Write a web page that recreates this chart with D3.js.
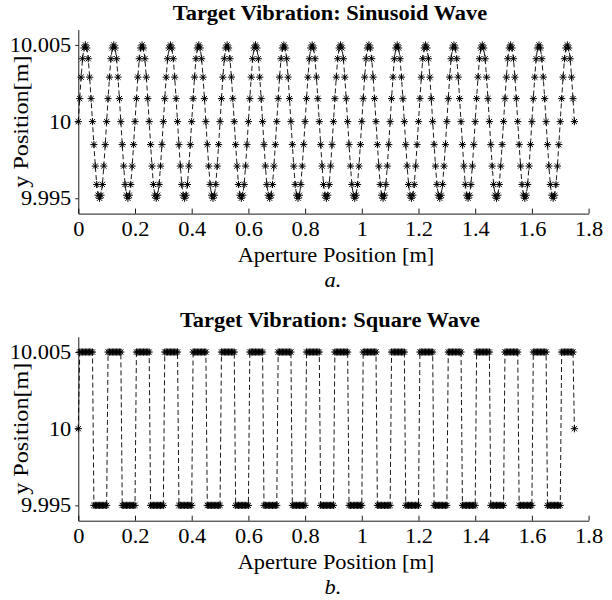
<!DOCTYPE html>
<html>
<head>
<meta charset="utf-8">
<script src="https://cdn.jsdelivr.net/npm/d3@7"></script>
<style>
  body { margin: 0; background: #fff; }
</style>
</head>
<body>
<svg id="chart" width="612" height="600"></svg>
<script>
// Aperture positions [m] of the samples (one row per 0.1 m vibration period)
const aperturePosition = [
  0,0.005,0.01,0.015,0.02,0.025,0.03,0.035,0.04,0.045,0.05,0.055,0.06,0.065,0.07,0.075,0.08,0.085,0.09,0.095,
  0.1,0.105,0.11,0.115,0.12,0.125,0.13,0.135,0.14,0.145,0.15,0.155,0.16,0.165,0.17,0.175,0.18,0.185,0.19,0.195,
  0.2,0.205,0.21,0.215,0.22,0.225,0.23,0.235,0.24,0.245,0.25,0.255,0.26,0.265,0.27,0.275,0.28,0.285,0.29,0.295,
  0.3,0.305,0.31,0.315,0.32,0.325,0.33,0.335,0.34,0.345,0.35,0.355,0.36,0.365,0.37,0.375,0.38,0.385,0.39,0.395,
  0.4,0.405,0.41,0.415,0.42,0.425,0.43,0.435,0.44,0.445,0.45,0.455,0.46,0.465,0.47,0.475,0.48,0.485,0.49,0.495,
  0.5,0.505,0.51,0.515,0.52,0.525,0.53,0.535,0.54,0.545,0.55,0.555,0.56,0.565,0.57,0.575,0.58,0.585,0.59,0.595,
  0.6,0.605,0.61,0.615,0.62,0.625,0.63,0.635,0.64,0.645,0.65,0.655,0.66,0.665,0.67,0.675,0.68,0.685,0.69,0.695,
  0.7,0.705,0.71,0.715,0.72,0.725,0.73,0.735,0.74,0.745,0.75,0.755,0.76,0.765,0.77,0.775,0.78,0.785,0.79,0.795,
  0.8,0.805,0.81,0.815,0.82,0.825,0.83,0.835,0.84,0.845,0.85,0.855,0.86,0.865,0.87,0.875,0.88,0.885,0.89,0.895,
  0.9,0.905,0.91,0.915,0.92,0.925,0.93,0.935,0.94,0.945,0.95,0.955,0.96,0.965,0.97,0.975,0.98,0.985,0.99,0.995,
  1,1.005,1.01,1.015,1.02,1.025,1.03,1.035,1.04,1.045,1.05,1.055,1.06,1.065,1.07,1.075,1.08,1.085,1.09,1.095,
  1.1,1.105,1.11,1.115,1.12,1.125,1.13,1.135,1.14,1.145,1.15,1.155,1.16,1.165,1.17,1.175,1.18,1.185,1.19,1.195,
  1.2,1.205,1.21,1.215,1.22,1.225,1.23,1.235,1.24,1.245,1.25,1.255,1.26,1.265,1.27,1.275,1.28,1.285,1.29,1.295,
  1.3,1.305,1.31,1.315,1.32,1.325,1.33,1.335,1.34,1.345,1.35,1.355,1.36,1.365,1.37,1.375,1.38,1.385,1.39,1.395,
  1.4,1.405,1.41,1.415,1.42,1.425,1.43,1.435,1.44,1.445,1.45,1.455,1.46,1.465,1.47,1.475,1.48,1.485,1.49,1.495,
  1.5,1.505,1.51,1.515,1.52,1.525,1.53,1.535,1.54,1.545,1.55,1.555,1.56,1.565,1.57,1.575,1.58,1.585,1.59,1.595,
  1.6,1.605,1.61,1.615,1.62,1.625,1.63,1.635,1.64,1.645,1.65,1.655,1.66,1.665,1.67,1.675,1.68,1.685,1.69,1.695,
  1.7,1.705,1.71,1.715,1.72,1.725,1.73,1.735,1.74,1.745,1.75
];

// Target y position [m] for the sinusoidal vibration
const sinusoidY = [
  10,10.0015,10.0029,10.0041,10.0048,10.005,10.0048,10.0041,10.0029,10.0015,10,9.9985,9.9971,9.9959,9.9952,9.995,9.9952,9.9959,9.9971,9.9985,
  10,10.0015,10.0029,10.0041,10.0048,10.005,10.0048,10.0041,10.0029,10.0015,10,9.9985,9.9971,9.9959,9.9952,9.995,9.9952,9.9959,9.9971,9.9985,
  10,10.0015,10.0029,10.0041,10.0048,10.005,10.0048,10.0041,10.0029,10.0015,10,9.9985,9.9971,9.9959,9.9952,9.995,9.9952,9.9959,9.9971,9.9985,
  10,10.0015,10.0029,10.0041,10.0048,10.005,10.0048,10.0041,10.0029,10.0015,10,9.9985,9.9971,9.9959,9.9952,9.995,9.9952,9.9959,9.9971,9.9985,
  10,10.0015,10.0029,10.0041,10.0048,10.005,10.0048,10.0041,10.0029,10.0015,10,9.9985,9.9971,9.9959,9.9952,9.995,9.9952,9.9959,9.9971,9.9985,
  10,10.0015,10.0029,10.0041,10.0048,10.005,10.0048,10.0041,10.0029,10.0015,10,9.9985,9.9971,9.9959,9.9952,9.995,9.9952,9.9959,9.9971,9.9985,
  10,10.0015,10.0029,10.0041,10.0048,10.005,10.0048,10.0041,10.0029,10.0015,10,9.9985,9.9971,9.9959,9.9952,9.995,9.9952,9.9959,9.9971,9.9985,
  10,10.0015,10.0029,10.0041,10.0048,10.005,10.0048,10.0041,10.0029,10.0015,10,9.9985,9.9971,9.9959,9.9952,9.995,9.9952,9.9959,9.9971,9.9985,
  10,10.0015,10.0029,10.0041,10.0048,10.005,10.0048,10.0041,10.0029,10.0015,10,9.9985,9.9971,9.9959,9.9952,9.995,9.9952,9.9959,9.9971,9.9985,
  10,10.0015,10.0029,10.0041,10.0048,10.005,10.0048,10.0041,10.0029,10.0015,10,9.9985,9.9971,9.9959,9.9952,9.995,9.9952,9.9959,9.9971,9.9985,
  10,10.0015,10.0029,10.0041,10.0048,10.005,10.0048,10.0041,10.0029,10.0015,10,9.9985,9.9971,9.9959,9.9952,9.995,9.9952,9.9959,9.9971,9.9985,
  10,10.0015,10.0029,10.0041,10.0048,10.005,10.0048,10.0041,10.0029,10.0015,10,9.9985,9.9971,9.9959,9.9952,9.995,9.9952,9.9959,9.9971,9.9985,
  10,10.0015,10.0029,10.0041,10.0048,10.005,10.0048,10.0041,10.0029,10.0015,10,9.9985,9.9971,9.9959,9.9952,9.995,9.9952,9.9959,9.9971,9.9985,
  10,10.0015,10.0029,10.0041,10.0048,10.005,10.0048,10.0041,10.0029,10.0015,10,9.9985,9.9971,9.9959,9.9952,9.995,9.9952,9.9959,9.9971,9.9985,
  10,10.0015,10.0029,10.0041,10.0048,10.005,10.0048,10.0041,10.0029,10.0015,10,9.9985,9.9971,9.9959,9.9952,9.995,9.9952,9.9959,9.9971,9.9985,
  10,10.0015,10.0029,10.0041,10.0048,10.005,10.0048,10.0041,10.0029,10.0015,10,9.9985,9.9971,9.9959,9.9952,9.995,9.9952,9.9959,9.9971,9.9985,
  10,10.0015,10.0029,10.0041,10.0048,10.005,10.0048,10.0041,10.0029,10.0015,10,9.9985,9.9971,9.9959,9.9952,9.995,9.9952,9.9959,9.9971,9.9985,
  10,10.0015,10.0029,10.0041,10.0048,10.005,10.0048,10.0041,10.0029,10.0015,10
];

// Target y position [m] for the square-wave vibration
const squareY = [
  10,10.005,10.005,10.005,10.005,10.005,10.005,10.005,10.005,10.005,10.005,9.995,9.995,9.995,9.995,9.995,9.995,9.995,9.995,9.995,
  9.995,10.005,10.005,10.005,10.005,10.005,10.005,10.005,10.005,10.005,10.005,9.995,9.995,9.995,9.995,9.995,9.995,9.995,9.995,9.995,
  9.995,10.005,10.005,10.005,10.005,10.005,10.005,10.005,10.005,10.005,10.005,9.995,9.995,9.995,9.995,9.995,9.995,9.995,9.995,9.995,
  9.995,10.005,10.005,10.005,10.005,10.005,10.005,10.005,10.005,10.005,10.005,9.995,9.995,9.995,9.995,9.995,9.995,9.995,9.995,9.995,
  9.995,10.005,10.005,10.005,10.005,10.005,10.005,10.005,10.005,10.005,10.005,9.995,9.995,9.995,9.995,9.995,9.995,9.995,9.995,9.995,
  9.995,10.005,10.005,10.005,10.005,10.005,10.005,10.005,10.005,10.005,10.005,9.995,9.995,9.995,9.995,9.995,9.995,9.995,9.995,9.995,
  9.995,10.005,10.005,10.005,10.005,10.005,10.005,10.005,10.005,10.005,10.005,9.995,9.995,9.995,9.995,9.995,9.995,9.995,9.995,9.995,
  9.995,10.005,10.005,10.005,10.005,10.005,10.005,10.005,10.005,10.005,10.005,9.995,9.995,9.995,9.995,9.995,9.995,9.995,9.995,9.995,
  9.995,10.005,10.005,10.005,10.005,10.005,10.005,10.005,10.005,10.005,10.005,9.995,9.995,9.995,9.995,9.995,9.995,9.995,9.995,9.995,
  9.995,10.005,10.005,10.005,10.005,10.005,10.005,10.005,10.005,10.005,10.005,9.995,9.995,9.995,9.995,9.995,9.995,9.995,9.995,9.995,
  9.995,10.005,10.005,10.005,10.005,10.005,10.005,10.005,10.005,10.005,10.005,9.995,9.995,9.995,9.995,9.995,9.995,9.995,9.995,9.995,
  9.995,10.005,10.005,10.005,10.005,10.005,10.005,10.005,10.005,10.005,10.005,9.995,9.995,9.995,9.995,9.995,9.995,9.995,9.995,9.995,
  9.995,10.005,10.005,10.005,10.005,10.005,10.005,10.005,10.005,10.005,10.005,9.995,9.995,9.995,9.995,9.995,9.995,9.995,9.995,9.995,
  9.995,10.005,10.005,10.005,10.005,10.005,10.005,10.005,10.005,10.005,10.005,9.995,9.995,9.995,9.995,9.995,9.995,9.995,9.995,9.995,
  9.995,10.005,10.005,10.005,10.005,10.005,10.005,10.005,10.005,10.005,10.005,9.995,9.995,9.995,9.995,9.995,9.995,9.995,9.995,9.995,
  9.995,10.005,10.005,10.005,10.005,10.005,10.005,10.005,10.005,10.005,10.005,9.995,9.995,9.995,9.995,9.995,9.995,9.995,9.995,9.995,
  9.995,10.005,10.005,10.005,10.005,10.005,10.005,10.005,10.005,10.005,10.005,9.995,9.995,9.995,9.995,9.995,9.995,9.995,9.995,9.995,
  9.995,10.005,10.005,10.005,10.005,10.005,10.005,10.005,10.005,10.005,10
];

const xTickValues = [0, 0.2, 0.4, 0.6, 0.8, 1, 1.2, 1.4, 1.6, 1.8];
const xTickLabels = ["0", "0.2", "0.4", "0.6", "0.8", "1", "1.2", "1.4", "1.6", "1.8"];
const yTickValues = [9.995, 10, 10.005];
const yTickLabels = ["9.995", "10", "10.005"];
const panelTitles = ["Target Vibration: Sinusoid Wave", "Target Vibration: Square Wave"];
const panelCaptions = ["a.", "b."];
const xAxisTitle = "Aperture Position [m]";
const yAxisTitle = "y Position[m]";

const SERIF = "'Liberation Serif', 'Times New Roman', serif";
const WIDEN = 1.12; // horizontal widening of the lettering

const svg = d3.select("#chart");

const plotLeft = 78.3, plotRight = 588.6, plotHeight = 184;
const panelTops = [29.6, 336.7];

const x = d3.scaleLinear().domain([0, 1.8]).range([plotLeft, plotRight]);

// Asterisk marker: a "+" overlaid with an "x"
const asterisk = "M0,-3.6V3.6M-3.6,0H3.6M-2.6,-2.6L2.6,2.6M-2.6,2.6L2.6,-2.6";

// style text in serif and widen it via textLength
function serif(sel, size, factor) {
  sel.style("font-family", SERIF).style("font-size", size + "px").attr("fill", "#000");
  sel.each(function () {
    const w = this.getComputedTextLength();
    d3.select(this).attr("textLength", w * factor).attr("lengthAdjust", "spacingAndGlyphs");
  });
  return sel;
}

function drawPanel(i, yValues) {
  const top = panelTops[i];
  const bottom = top + plotHeight;
  const y = d3.scaleLinear().domain([9.994, 10.006]).range([bottom, top]);
  const g = svg.append("g");

  // title
  const t = g.append("text")
    .attr("x", 330).attr("y", top - 9.5)
    .attr("text-anchor", "middle")
    .style("font-weight", "bold")
    .text(panelTitles[i]);
  serif(t, 20, WIDEN);

  // dashed trace
  const line = d3.line().x(d => x(d[0])).y(d => y(d[1]));
  const pts = aperturePosition.map((p, k) => [p, yValues[k]]);
  g.append("path")
    .datum(pts)
    .attr("d", line)
    .attr("fill", "none")
    .attr("stroke", "#000")
    .attr("stroke-width", 0.9)
    .attr("stroke-dasharray", "5,3");

  // sample markers
  g.append("g").selectAll("path")
    .data(pts)
    .join("path")
    .attr("transform", d => `translate(${x(d[0])},${y(d[1])})`)
    .attr("d", asterisk)
    .attr("fill", "none")
    .attr("stroke", "#000")
    .attr("stroke-width", 1);

  // x axis (ticks point inward)
  const xAxis = d3.axisBottom(x)
    .tickValues(xTickValues)
    .tickFormat((d, j) => xTickLabels[j])
    .tickSizeInner(-5).tickSizeOuter(0).tickPadding(8);
  const gx = g.append("g").attr("transform", `translate(0,${bottom})`).call(xAxis);
  gx.attr("font-family", null).attr("font-size", null);
  serif(gx.selectAll("text"), 20, WIDEN);
  gx.select(".domain").attr("stroke-width", 0.9);
  gx.selectAll(".tick line").attr("stroke-width", 0.9);

  // y axis
  const yAxis = d3.axisLeft(y)
    .tickValues(yTickValues)
    .tickFormat((d, j) => yTickLabels[j])
    .tickSizeInner(3).tickSizeOuter(0).tickPadding(4);
  const gy = g.append("g").attr("transform", `translate(${plotLeft},0)`).call(yAxis);
  gy.attr("font-family", null).attr("font-size", null);
  serif(gy.selectAll("text"), 20, WIDEN);
  gy.select(".domain").attr("stroke-width", 0.9);
  gy.selectAll(".tick line").attr("stroke-width", 0.9);

  // axis titles and caption
  const xl = g.append("text")
    .attr("x", 336).attr("y", bottom + 48)
    .attr("text-anchor", "middle")
    .text(xAxisTitle);
  serif(xl, 20, WIDEN);

  const yl = g.append("text")
    .attr("transform", `translate(28,${(top + bottom) / 2}) rotate(-90)`)
    .attr("text-anchor", "middle")
    .text(yAxisTitle);
  serif(yl, 21, 1.15);

  const cap = g.append("text")
    .attr("x", 333).attr("y", bottom + 73)
    .attr("text-anchor", "middle")
    .style("font-style", "italic")
    .text(panelCaptions[i]);
  serif(cap, 20, WIDEN);
}

drawPanel(0, sinusoidY);
drawPanel(1, squareY);
</script>
</body>
</html>
